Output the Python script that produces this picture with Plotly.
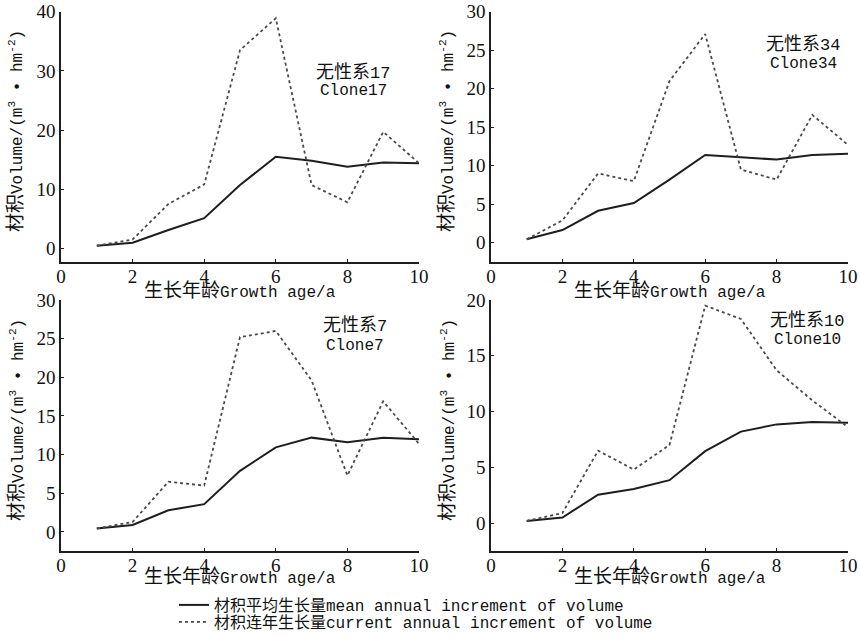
import plotly.graph_objects as go
from plotly.subplots import make_subplots

W, H = 860, 642

ages = [1, 2, 3, 4, 5, 6, 7, 8, 9, 10]

clone_ids = ["17", "34", "7", "10"]

mean_17 = [0.45, 0.95, 3.1, 5.1, 10.7, 15.5, 14.8, 13.8, 14.5, 14.4]
cur_17 = [0.45, 1.5, 7.5, 10.8, 33.5, 38.9, 10.7, 7.8, 19.7, 14.4]

mean_34 = [0.45, 1.65, 4.15, 5.15, 8.2, 11.4, 11.1, 10.8, 11.4, 11.55]
cur_34 = [0.45, 2.9, 9.0, 8.0, 21.0, 27.1, 9.5, 8.2, 16.6, 12.7]

mean_7 = [0.45, 0.9, 2.8, 3.6, 7.9, 10.95, 12.2, 11.6, 12.2, 12.0]
cur_7 = [0.45, 1.3, 6.5, 6.0, 25.2, 26.0, 19.6, 7.3, 16.9, 11.4]

mean_10 = [0.2, 0.5, 2.55, 3.05, 3.85, 6.45, 8.2, 8.85, 9.07, 9.0]
cur_10 = [0.2, 0.9, 6.5, 4.8, 7.0, 19.5, 18.3, 13.7, 11.0, 8.6]

y_ranges = [[-2.3, 40], [-2.5, 30], [-2.46, 30], [-2.5, 20]]
y_dticks = [10, 5, 5, 5]

legend_names = ["材积平均生长量mean annual increment of volume",
                "材积连年生长量current annual increment of volume"]
x_title = "<span style='font-size:19px'>生长年龄</span>Growth age/a"
y_title = "<span style='font-size:19px'>材积</span>Volume/(m<sup>3</sup> • hm<sup>-2</sup>)"

TXT_FONT = "Liberation Mono, Noto Sans CJK SC, monospace"
NUM_FONT = "Liberation Serif, serif"
DARK = "#1e1e1e"
GRAY = "#4a4a4a"

def px(xp):
    return xp / W

def py(yp):
    return 1 - yp / H

fig = make_subplots(rows=2, cols=2)

means = [mean_17, mean_34, mean_7, mean_10]
curs = [cur_17, cur_34, cur_7, cur_10]
pos = [(1, 1), (1, 2), (2, 1), (2, 2)]

for i, (r, c) in enumerate(pos):
    fig.add_trace(go.Scatter(x=ages, y=means[i], mode="lines",
                             line=dict(color=DARK, width=2),
                             name=legend_names[0], showlegend=(i == 0),
                             legend="legend"), row=r, col=c)
    fig.add_trace(go.Scatter(x=ages, y=curs[i], mode="lines",
                             line=dict(color=GRAY, width=1.8, dash="dot"),
                             name=legend_names[1], showlegend=(i == 0),
                             legend="legend2"), row=r, col=c)

x_dom = {1: [px(61), px(419)], 2: [px(491), px(848)]}
y_dom = {1: [py(262), py(11.7)], 2: [py(551), py(300)]}

for i, (r, c) in enumerate(pos):
    fig.update_xaxes(row=r, col=c, domain=x_dom[c], range=[0, 10], dtick=2,
                     tick0=0, showline=True, linecolor=DARK, linewidth=1.5,
                     ticks="inside", ticklen=3, tickcolor=DARK, showgrid=False,
                     zeroline=False, automargin=False, ticklabelstandoff=-4,
                     tickfont=dict(family=NUM_FONT, size=19, color="#111"))
    fig.update_yaxes(row=r, col=c, domain=y_dom[r], range=y_ranges[i],
                     dtick=y_dticks[i], tick0=0, showline=True, linecolor=DARK,
                     linewidth=1.5, ticks="inside", ticklen=3, tickcolor=DARK,
                     showgrid=False, zeroline=False, automargin=False,
                     tickfont=dict(family=NUM_FONT, size=19, color="#111"))

annos = []
label_pos = [((353, 72), (353, 90)), ((803, 45), (803, 63)),
             ((355, 326), (355, 345)), ((807, 320), (807, 339))]
for i, cid in enumerate(clone_ids):
    (x1, y1), (x2, y2) = label_pos[i]
    annos.append(dict(text="<span style='font-size:18px'>无性系</span>" + cid,
                      x=px(x1), y=py(y1), xref="paper", yref="paper",
                      showarrow=False, xanchor="center", yanchor="middle",
                      font=dict(family=TXT_FONT, size=17, color="#111")))
    annos.append(dict(text="Clone" + cid, x=px(x2), y=py(y2 + 1), xref="paper", yref="paper",
                      showarrow=False, xanchor="center", yanchor="middle",
                      font=dict(family=TXT_FONT, size=16, color="#111")))

for (xc, yc) in [(240, 291), (670, 291), (240, 577), (670, 577)]:
    annos.append(dict(text=x_title, x=px(xc), y=py(yc), xref="paper", yref="paper",
                      showarrow=False, xanchor="center", yanchor="middle",
                      font=dict(family=TXT_FONT, size=16, color="#111")))
for (xc, yc) in [(17, 131), (448, 131), (17, 420), (448, 420)]:
    annos.append(dict(text=y_title, x=px(xc), y=py(yc), xref="paper", yref="paper",
                      showarrow=False, xanchor="center", yanchor="middle", textangle=-90,
                      font=dict(family=TXT_FONT, size=16, color="#111")))

fig.update_layout(
    template="none",
    width=W, height=H,
    margin=dict(l=0, r=0, t=0, b=0, autoexpand=False),
    paper_bgcolor="white", plot_bgcolor="white",
    annotations=annos,
    legend=dict(x=px(174), y=py(605), xanchor="left", yanchor="middle",
                bgcolor="rgba(0,0,0,0)", itemwidth=30,
                font=dict(family=TXT_FONT, size=16, color="#111")),
    legend2=dict(x=px(174), y=py(622), xanchor="left", yanchor="middle",
                 bgcolor="rgba(0,0,0,0)", itemwidth=30,
                 font=dict(family=TXT_FONT, size=16, color="#111")),
)

fig.write_html("out.html")
